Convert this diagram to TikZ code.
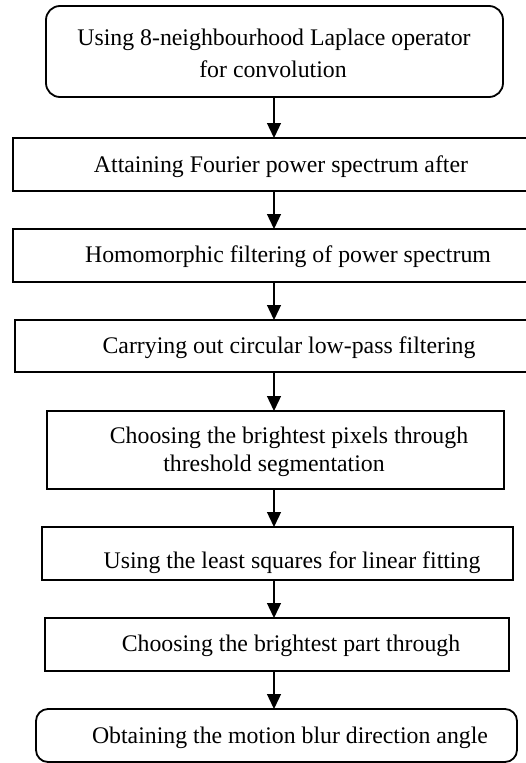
\documentclass[tikz,border=0pt]{standalone}
\usepackage{fontspec}
\setmainfont{Liberation Serif}
\usetikzlibrary{arrows.meta}
\begin{document}
\begin{tikzpicture}[x=1pt,y=-1pt,
  stepbox/.style={draw=black, line width=1.8pt, inner sep=0pt, outer sep=0pt, anchor=north west, fill=white},
  roundbox/.style={stepbox, rounded corners=14pt},
  txt/.style={inner sep=0pt, anchor=base, font=\fontsize{23.8pt}{28pt}\selectfont},
  arr/.style={draw=black, line width=1.3pt, -{Triangle[length=15pt,width=14pt]}}]
\useasboundingbox (0,0) rectangle (526,763);
\fill[white] (0,0) rectangle (526,763);
\clip (0,0) rectangle (526,763);
% boxes
\node[roundbox, minimum width=457pt, minimum height=91pt] (b1) at (46,6) {};
\node[stepbox, minimum width=515pt, minimum height=53pt] (b2) at (13,138) {};
\node[stepbox, minimum width=515pt, minimum height=53pt] (b3) at (13,229) {};
\node[stepbox, minimum width=513pt, minimum height=52pt] (b4) at (15,320) {};
\node[stepbox, minimum width=457pt, minimum height=78pt] (b5) at (47,411) {};
\node[stepbox, minimum width=471pt, minimum height=53pt] (b6) at (42,527) {};
\node[stepbox, minimum width=464pt, minimum height=53pt] (b7) at (45,618) {};
\node[roundbox, minimum width=481pt, minimum height=53pt, rounded corners=12pt] (b8) at (36,709) {};
% texts
\node[txt] (t1a) at (274,45) {Using 8-neighbourhood Laplace operator};
\node[txt] (t1b) at (273,77) {for convolution};
\node[txt] (t2) at (281,172) {Attaining Fourier power spectrum after};
\node[txt] (t3) at (288,262) {Homomorphic filtering of power spectrum};
\node[txt] (t4) at (289,353) {Carrying out circular low-pass filtering};
\node[txt] (t5a) at (289,443) {Choosing the brightest pixels through};
\node[txt] (t5b) at (274,471) {threshold segmentation};
\node[txt] (t6) at (292,568) {Using the least squares for linear fitting};
\node[txt] (t7) at (291,651) {Choosing the brightest part through};
\node[txt] (t8) at (290,743) {Obtaining the motion blur direction angle};
% connectors
\coordinate (ax) at (274,0);
\draw[arr] (b1.south -| ax) -- (b2.north -| ax);
\draw[arr] (b2.south -| ax) -- (b3.north -| ax);
\draw[arr] (b3.south -| ax) -- (b4.north -| ax);
\draw[arr] (b4.south -| ax) -- (b5.north -| ax);
\draw[arr] (b5.south -| ax) -- (b6.north -| ax);
\draw[arr] (b6.south -| ax) -- (b7.north -| ax);
\draw[arr] (b7.south -| ax) -- (b8.north -| ax);
\end{tikzpicture}
\end{document}
